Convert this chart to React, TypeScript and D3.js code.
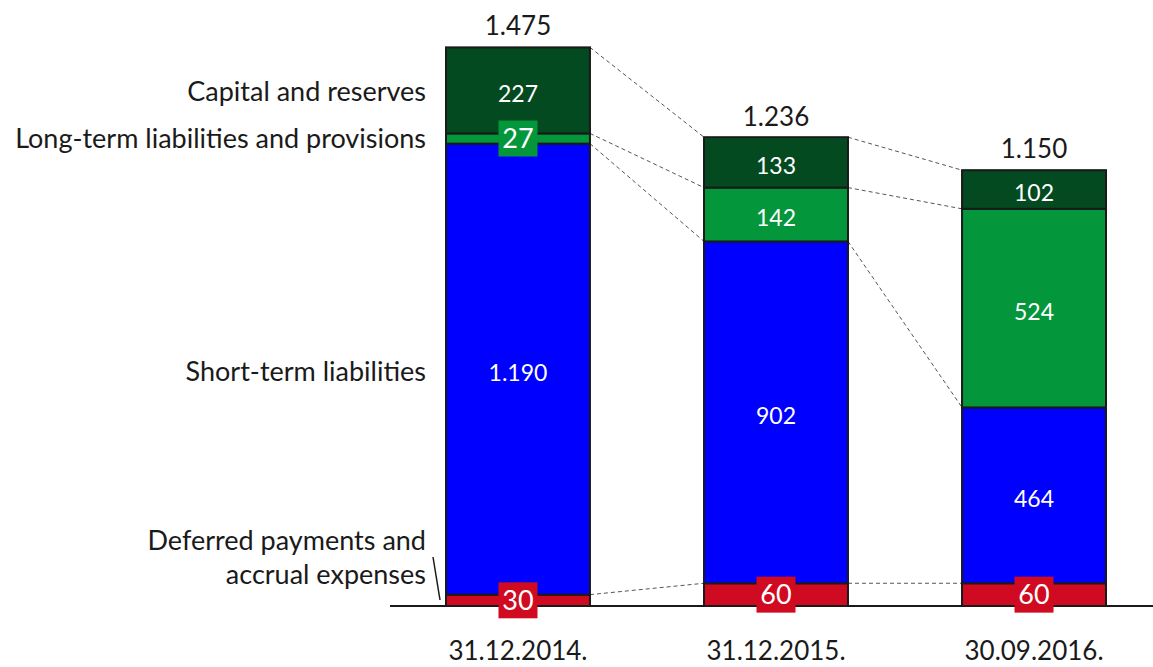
import React, { useEffect, useRef } from 'react';
import * as d3 from 'd3';

const categories = ['31.12.2014.', '31.12.2015.', '30.09.2016.'];
const seriesNames = [
  'Deferred payments and accrual expenses',
  'Short-term liabilities',
  'Long-term liabilities and provisions',
  'Capital and reserves',
];
const deferred = [30, 60, 60];
const shortTerm = [1190, 902, 464];
const longTerm = [27, 142, 524];
const capital = [227, 133, 102];
const totals = [1475, 1236, 1150];
const colors = ['#cf0a21', '#0000ff', '#03963a', '#034a21'];

const W = 1153, H = 667;
const FONT = 'Lato, "Open Sans", sans-serif';

const App = () => {
  const ref = useRef<SVGSVGElement | null>(null);

  useEffect(() => {
    document.body.style.margin = '0';
    const svg = d3.select(ref.current);
    svg.selectAll('*').remove();

    const fmt = d3.formatLocale({ decimal: ',', thousands: '.', grouping: [3], currency: ['', ''] }).format(',d');

    const rows = categories.map((c, i) => ({
      cat: c, s0: deferred[i], s1: shortTerm[i], s2: longTerm[i], s3: capital[i],
    }));
    const stack = d3.stack<any>().keys(['s0', 's1', 's2', 's3']);
    const layers = stack(rows);

    const x = d3.scaleBand().domain(categories).range([446, 1106]).paddingInner(0.442).paddingOuter(0);
    const y = d3.scaleLinear().domain([0, 1475]).range([606, 47]);
    const bw = x.bandwidth();

    // dashed connectors between bars
    const conn = svg.append('g');
    layers.forEach(layer => {
      for (let i = 0; i < categories.length - 1; i++) {
        conn.append('line')
          .attr('x1', x(categories[i])! + bw).attr('y1', y(layer[i][1]))
          .attr('x2', x(categories[i + 1])!).attr('y2', y(layer[i + 1][1]))
          .attr('stroke', '#555').attr('stroke-width', 1).attr('stroke-dasharray', '4,3');
      }
    });

    // baseline
    svg.append('line').attr('x1', 390).attr('x2', W).attr('y1', y(0)).attr('y2', y(0))
      .attr('stroke', '#1a1a1a').attr('stroke-width', 2);

    // bars
    layers.forEach((layer, k) => {
      svg.append('g').selectAll('rect').data(layer).enter().append('rect')
        .attr('x', (d: any) => x(d.data.cat)!)
        .attr('y', d => y(d[1]))
        .attr('width', bw)
        .attr('height', d => y(d[0]) - y(d[1]))
        .attr('fill', colors[k])
        .attr('stroke', '#1a1a1a').attr('stroke-width', 2);
    });

    // segment labels (small segments get a coloured box)
    layers.forEach((layer, k) => {
      layer.forEach((d: any) => {
        const v = d[1] - d[0];
        const cx = x(d.data.cat)! + bw / 2;
        const cy = (y(d[0]) + y(d[1])) / 2;
        const small = y(d[0]) - y(d[1]) < 30;
        if (small) {
          svg.append('rect').attr('x', cx - 19.5).attr('y', cy - 18).attr('width', 39).attr('height', 36)
            .attr('fill', colors[k]);
        }
        svg.append('text').attr('x', cx).attr('y', cy).attr('dy', small ? '0.36em' : '0.5em')
          .attr('text-anchor', 'middle').attr('fill', '#fff')
          .style('font-family', FONT).style('font-size', small ? '27px' : '23px')
          .text(fmt(v));
      });
    });

    // totals
    svg.append('g').selectAll('text').data(categories).enter().append('text')
      .attr('x', c => x(c)! + bw / 2)
      .attr('y', (c, i) => y(totals[i]) - 12)
      .attr('text-anchor', 'middle').attr('fill', '#1a1a1a')
      .style('font-family', FONT).style('font-size', '26px')
      .text((c, i) => fmt(totals[i]));

    // category labels
    svg.append('g').selectAll('text').data(categories).enter().append('text')
      .attr('x', c => x(c)! + bw / 2).attr('y', 660)
      .attr('text-anchor', 'middle').attr('fill', '#1a1a1a')
      .style('font-family', FONT).style('font-size', '26px')
      .text(c => c);

    // series names on the left
    const lx = 426;
    const legend = svg.append('g').style('font-family', FONT).style('font-size', '27px').attr('fill', '#1a1a1a').attr('text-anchor', 'end');
    const mid = (k: number) => (y(layers[k][0][0]) + y(layers[k][0][1])) / 2;
    legend.append('text').attr('x', lx).attr('y', mid(3) + 1).attr('dy', '0.36em').text(seriesNames[3]);
    legend.append('text').attr('x', lx).attr('y', mid(2)).attr('dy', '0.36em').text(seriesNames[2]);
    legend.append('text').attr('x', lx).attr('y', mid(1) + 2).attr('dy', '0.36em').text(seriesNames[1]);
    legend.append('text').attr('x', lx).attr('y', 540).attr('dy', '0.36em').text('Deferred payments and');
    legend.append('text').attr('x', lx).attr('y', 574).attr('dy', '0.36em').text('accrual expenses');
    svg.append('line').attr('x1', 433).attr('y1', 557).attr('x2', 440).attr('y2', 600)
      .attr('stroke', '#1a1a1a').attr('stroke-width', 1.5);
  }, []);

  return <svg ref={ref} width={W} height={H} style={{ display: 'block', background: '#fff' }} />;
};

export default App;
